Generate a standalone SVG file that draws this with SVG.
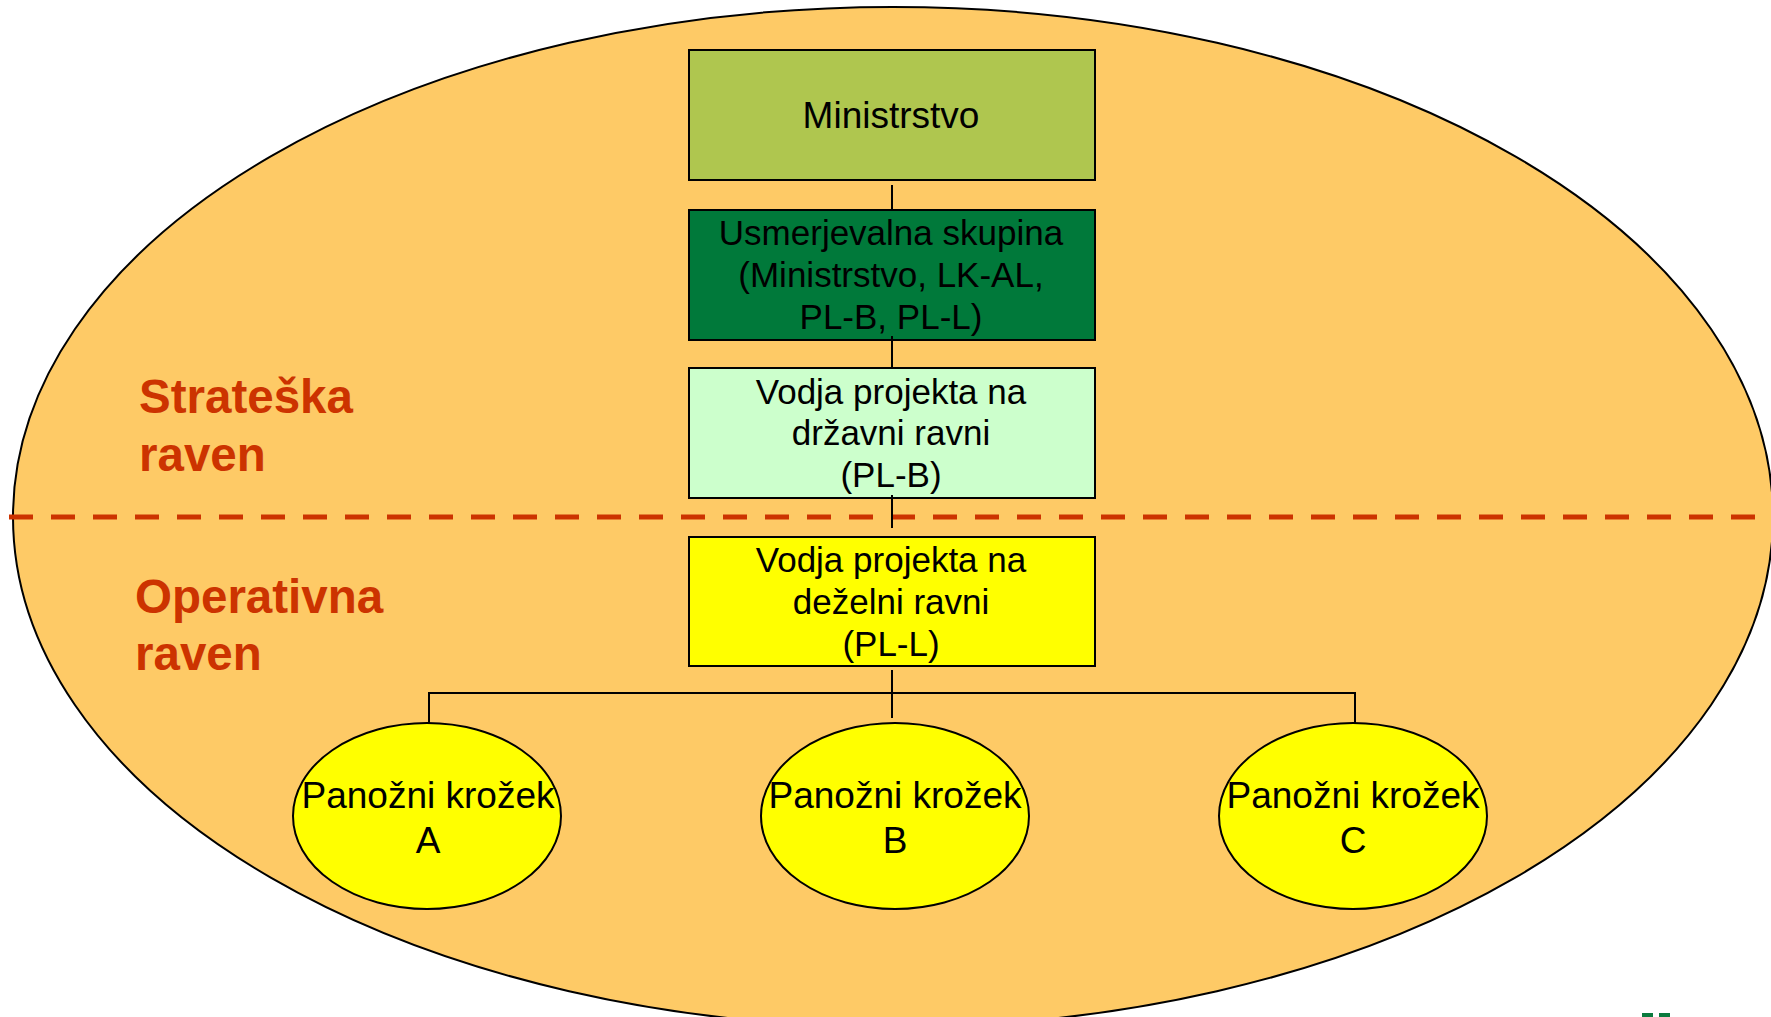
<svg xmlns="http://www.w3.org/2000/svg" width="1771" height="1017" viewBox="0 0 1771 1017">
<style>
.box{stroke:#000;stroke-width:2}
.t{font-family:"Liberation Sans",Arial,sans-serif;fill:#000;text-anchor:middle}
.lvl{font-family:"Liberation Sans",Arial,sans-serif;font-weight:bold;font-size:47.5px;fill:#CC3300}
.c{stroke:#000;stroke-width:2;fill:none}
</style>
<rect width="1771" height="1017" fill="#fff"/>
<g id="background">
<ellipse cx="893" cy="517" rx="880" ry="510" fill="#FECA66" stroke="#000" stroke-width="2"/>
<line x1="9" y1="517" x2="1771" y2="517" stroke="#CC3300" stroke-width="5" stroke-dasharray="24 18"/>
</g>
<g id="label-strateska">
<text class="lvl" x="139" y="413">Strateška</text>
<text class="lvl" x="139" y="471">raven</text>
</g>
<g id="label-operativna">
<text class="lvl" x="135" y="613">Operativna</text>
<text class="lvl" x="135" y="670">raven</text>
</g>
<g id="ministrstvo">
<rect class="box" x="689" y="50" width="406" height="130" fill="#AFC64F"/>
<text class="t" x="891" y="128" font-size="37">Ministrstvo</text>
</g>
<g id="usmerjevalna">
<rect class="box" x="689" y="210" width="406" height="130" fill="#00793A"/>
<text class="t" x="891" y="245" font-size="35">Usmerjevalna skupina</text>
<text class="t" x="891" y="287" font-size="35">(Ministrstvo, LK-AL,</text>
<text class="t" x="891" y="329" font-size="35">PL-B, PL-L)</text>
</g>
<g id="vodja-drzavni">
<rect class="box" x="689" y="368" width="406" height="130" fill="#CCFFCC"/>
<text class="t" x="891" y="404" font-size="35">Vodja projekta na</text>
<text class="t" x="891" y="445" font-size="35">državni ravni</text>
<text class="t" x="891" y="487" font-size="35">(PL-B)</text>
</g>
<g id="vodja-dezelni">
<rect class="box" x="689" y="537" width="406" height="129" fill="#FFFF00"/>
<text class="t" x="891" y="572" font-size="35">Vodja projekta na</text>
<text class="t" x="891" y="614" font-size="35">deželni ravni</text>
<text class="t" x="891" y="656" font-size="35">(PL-L)</text>
</g>
<g id="krozek-a">
<ellipse class="box" cx="427" cy="816" rx="134" ry="93" fill="#FFFF00"/>
<text class="t" x="428" y="808" font-size="37">Panožni krožek</text>
<text class="t" x="428" y="853" font-size="37">A</text>
</g>
<g id="krozek-b">
<ellipse class="box" cx="895" cy="816" rx="134" ry="93" fill="#FFFF00"/>
<text class="t" x="895" y="808" font-size="37">Panožni krožek</text>
<text class="t" x="895" y="853" font-size="37">B</text>
</g>
<g id="krozek-c">
<ellipse class="box" cx="1353" cy="816" rx="134" ry="93" fill="#FFFF00"/>
<text class="t" x="1353" y="808" font-size="37">Panožni krožek</text>
<text class="t" x="1353" y="853" font-size="37">C</text>
</g>
<g id="connectors">
<line class="c" x1="892" y1="185" x2="892" y2="210"/>
<line class="c" x1="892" y1="336" x2="892" y2="368"/>
<line class="c" x1="892" y1="495" x2="892" y2="528"/>
<line class="c" x1="892" y1="670" x2="892" y2="718"/>
<polyline class="c" points="429,723 429,693 1355,693 1355,723"/>
</g>
<g id="logo-fragment" fill="#0B7A3E">
<rect x="1642" y="1013" width="11" height="4"/>
<rect x="1659" y="1013" width="11" height="4"/>
</g>
</svg>
